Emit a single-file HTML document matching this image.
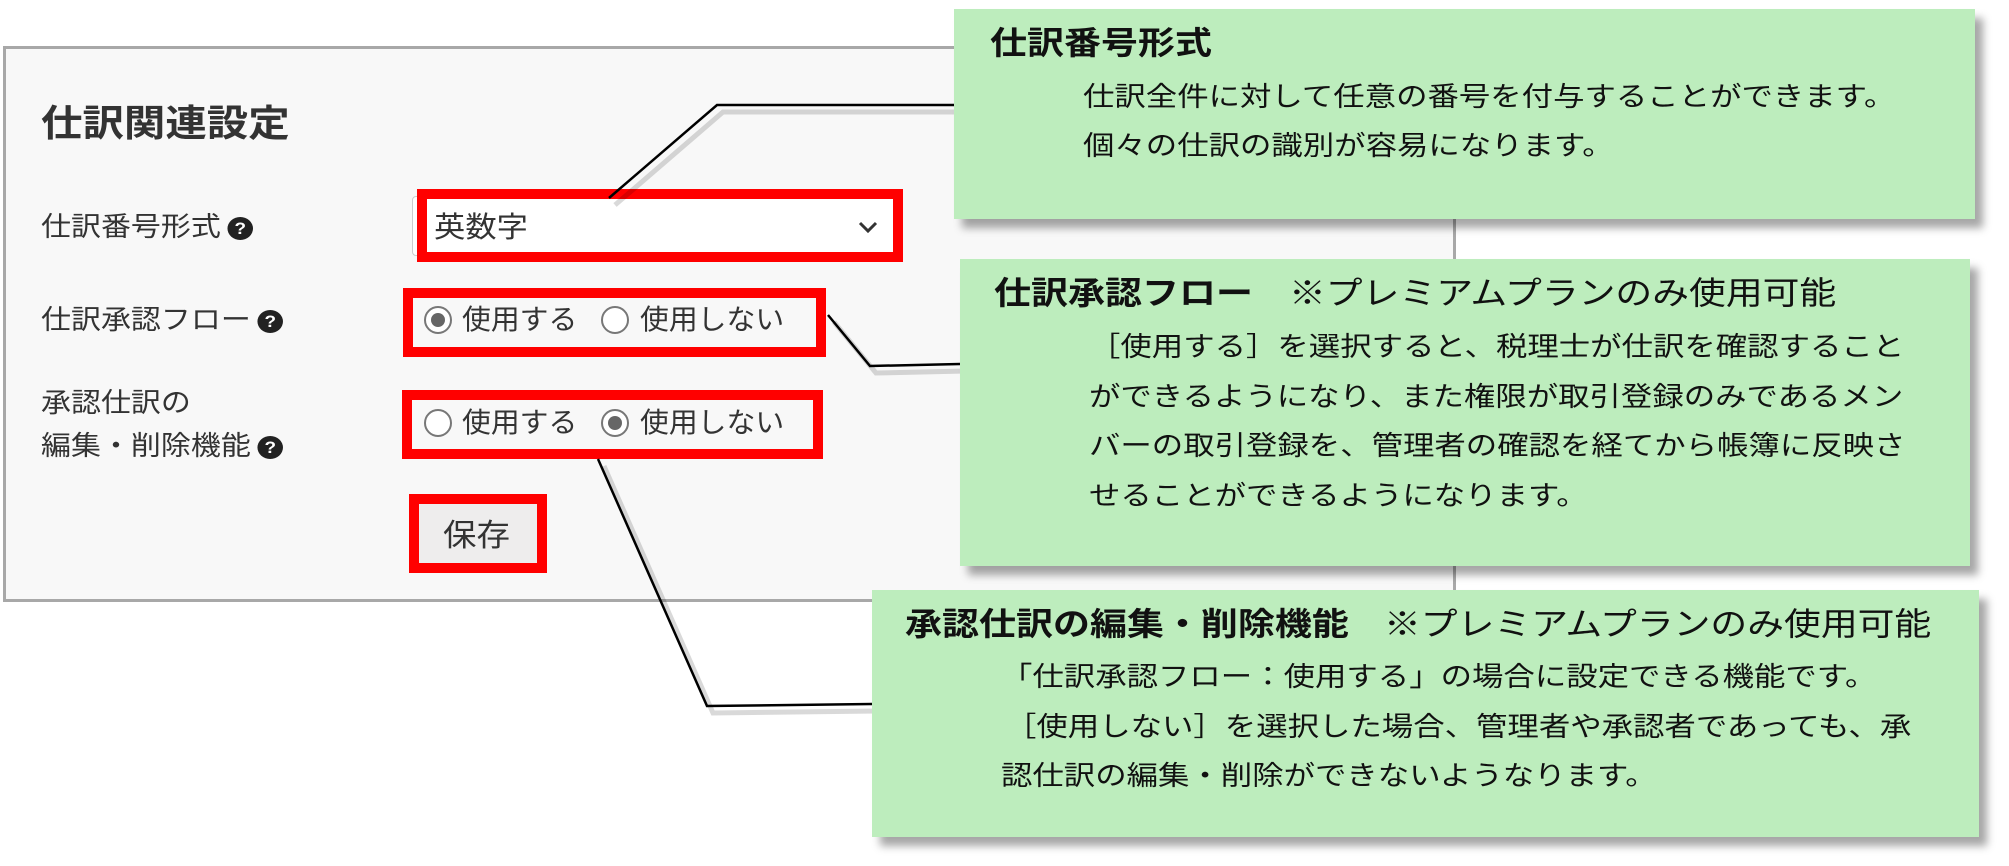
<!DOCTYPE html>
<html><head><meta charset="utf-8"><style>
body{margin:0;width:2009px;height:866px;background:#fff;position:relative;overflow:hidden;font-family:"Liberation Sans","Noto Sans CJK JP",sans-serif;}
.a{position:absolute;white-space:nowrap;line-height:40px;transform-origin:0 50%;}
.panel{position:absolute;left:3px;top:46px;width:1447px;height:550px;background:#f8f8f8;border:3px solid #a8a8a8;}
.lbl{font-size:27px;color:#333;transform:scaleX(1.11);}
.q{display:inline-block;width:23px;height:23px;border-radius:50%;background:#222;color:#fff;font-size:17px;line-height:23px;text-align:center;font-weight:bold;vertical-align:middle;font-family:"Liberation Sans",sans-serif;margin-left:6px;}
.red{position:absolute;border:10px solid #ff0000;box-sizing:border-box;}
.rad{position:absolute;width:24px;height:24px;border:2px solid #777;border-radius:50%;background:#fff;box-sizing:content-box;}
.rad.on::after{content:"";position:absolute;left:5px;top:5px;width:14px;height:14px;border-radius:50%;background:#666;}
.rt{font-size:28px;color:#333;transform:scaleX(1.03);}
.g{position:absolute;background:#bdedbd;box-shadow:8px 9px 8px rgba(0,0,0,0.35);}
.t{font-size:32px;font-weight:bold;color:#111;transform:scaleX(1.156);}
.p{font-size:32px;color:#111;transform:scaleX(1.15);}
.b{font-size:27px;color:#111;transform:scaleX(1.163);}
</style></head><body>
<div class="panel"></div>
<div class="a" style="left:41px;top:104px;font-size:37px;font-weight:bold;color:#333;transform:scaleX(1.12)">仕訳関連設定</div>
<div class="a lbl" style="left:41px;top:207px">仕訳番号形式<span class="q">?</span></div>
<div class="a lbl" style="left:41px;top:300px">仕訳承認フロー<span class="q">?</span></div>
<div class="a lbl" style="left:41px;top:383px">承認仕訳の</div>
<div class="a lbl" style="left:41px;top:426px">編集・削除機能<span class="q">?</span></div>

<div style="position:absolute;left:412px;top:196px;width:482px;height:58px;background:#fff;border:1px solid #ccc;border-radius:4px"></div>
<div class="red" style="left:417px;top:189px;width:486px;height:73px"></div>
<div class="a" style="left:434px;top:208px;font-size:29px;color:#333;transform:scaleX(1.08)">英数字</div>
<svg style="position:absolute;left:858px;top:220px" width="20" height="14"><polyline points="2,3 10,11 18,3" fill="none" stroke="#333" stroke-width="3"/></svg>

<div class="red" style="left:403px;top:288px;width:423px;height:69px"></div>
<div class="rad on" style="left:424px;top:306px"></div>
<div class="a rt" style="left:462px;top:300px">使用する</div>
<div class="rad" style="left:601px;top:306px"></div>
<div class="a rt" style="left:640px;top:300px">使用しない</div>

<div class="red" style="left:402px;top:390px;width:421px;height:69px"></div>
<div class="rad" style="left:424px;top:409px"></div>
<div class="a rt" style="left:462px;top:403px">使用する</div>
<div class="rad on" style="left:601px;top:409px"></div>
<div class="a rt" style="left:640px;top:403px">使用しない</div>

<div style="position:absolute;left:419px;top:504px;width:118px;height:59px;background:#eeeded"></div>
<div class="red" style="left:409px;top:494px;width:138px;height:79px"></div>
<div class="a" style="left:443px;top:516px;font-size:31px;color:#333;transform:scaleX(1.08)">保存</div>

<svg style="position:absolute;left:0;top:0" width="2009" height="866">
<g fill="none" stroke="rgba(0,0,0,0.15)" stroke-width="5" transform="translate(6,7)">
<polyline points="609,198 717,105 954,105"/><polyline points="828,315 870,366 960,364"/><polyline points="598,459 707,706 872,704"/>
</g>
<g fill="none" stroke="#000" stroke-width="2.5">
<polyline points="609,198 717,105 954,105"/><polyline points="828,315 870,366 960,364"/><polyline points="598,459 707,706 872,704"/>
</g></svg>

<div class="g" style="left:954px;top:9px;width:1021px;height:210px"></div>
<div class="a t" style="left:990px;top:23px">仕訳番号形式</div>
<div class="a b" style="left:1083px;top:77px">仕訳全件に対して任意の番号を付与することができます。</div>
<div class="a b" style="left:1083px;top:126px">個々の仕訳の識別が容易になります。</div>

<div class="g" style="left:960px;top:259px;width:1010px;height:307px"></div>
<div class="a t" style="left:994px;top:273px">仕訳承認フロー</div>
<div class="a p" style="left:1289px;top:273px">※プレミアムプランのみ使用可能</div>
<div class="a b" style="left:1089px;top:327px">［使用する］を選択すると、税理士が仕訳を確認すること</div>
<div class="a b" style="left:1089px;top:377px">ができるようになり、また権限が取引登録のみであるメン</div>
<div class="a b" style="left:1089px;top:426px">バーの取引登録を、管理者の確認を経てから帳簿に反映さ</div>
<div class="a b" style="left:1089px;top:476px">せることができるようになります。</div>

<div class="g" style="left:872px;top:590px;width:1107px;height:247px"></div>
<div class="a t" style="left:905px;top:604px">承認仕訳の編集・削除機能</div>
<div class="a p" style="left:1384px;top:604px">※プレミアムプランのみ使用可能</div>
<div class="a b" style="left:1001px;top:657px">「仕訳承認フロー：使用する」の場合に設定できる機能です。</div>
<div class="a b" style="left:1005px;top:707px">［使用しない］を選択した場合、管理者や承認者であっても、承</div>
<div class="a b" style="left:1001px;top:756px">認仕訳の編集・削除ができないようなります。</div>
</body></html>
